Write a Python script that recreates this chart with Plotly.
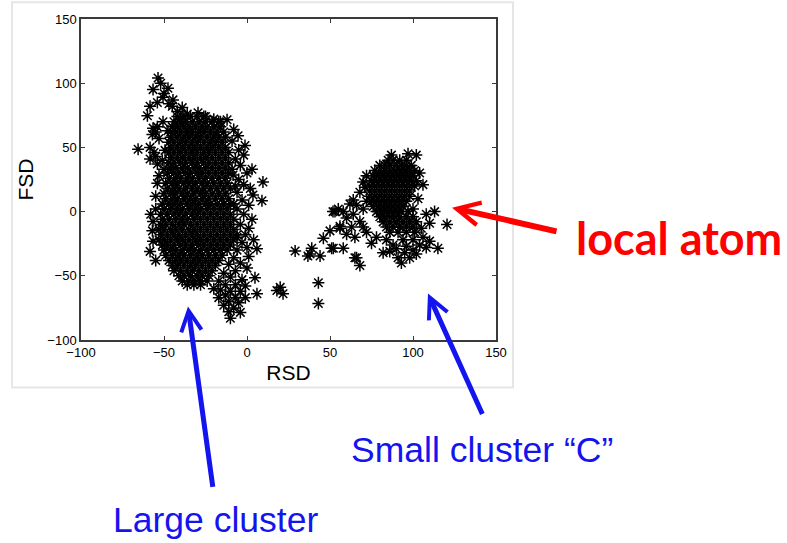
import plotly.graph_objects as go

# ---- large cluster: dense core, one row of RSD values per FSD level ----
large_core_rows = [
    (74, [-42, -38, -34, -30, -26]),
    (70, [-44, -40, -37, -33, -29, -25, -21, -17]),
    (66, [-45, -42, -38, -35, -31, -27, -24, -20, -16]),
    (62, [-46, -43, -40, -36, -33, -29, -26, -22, -18, -14]),
    (58, [-46, -42, -38, -35, -31, -28, -24, -20, -17, -13]),
    (54, [-47, -44, -40, -37, -33, -30, -26, -22, -19, -15]),
    (50, [-46, -42, -39, -35, -32, -28, -24, -21, -17, -13]),
    (46, [-47, -44, -40, -37, -33, -30, -26, -23, -19, -15, -11]),
    (42, [-46, -42, -39, -35, -32, -28, -25, -21, -17, -13]),
    (38, [-47, -44, -40, -37, -33, -30, -26, -23, -19, -15, -11]),
    (34, [-46, -43, -39, -36, -32, -29, -25, -21, -17, -13]),
    (30, [-48, -44, -41, -37, -34, -30, -27, -23, -19, -15, -11]),
    (26, [-47, -43, -40, -36, -33, -29, -25, -21, -17, -13]),
    (22, [-49, -45, -42, -38, -35, -31, -27, -24, -20, -16, -12]),
    (18, [-48, -44, -41, -37, -33, -30, -26, -22, -18, -14, -10]),
    (14, [-50, -46, -43, -39, -36, -32, -28, -25, -21, -17, -13]),
    (10, [-49, -45, -42, -38, -34, -31, -27, -23, -19, -15, -11]),
    (6, [-51, -47, -44, -40, -36, -33, -29, -25, -22, -18, -14, -10]),
    (2, [-50, -46, -42, -39, -35, -31, -28, -24, -20, -16, -12]),
    (-2, [-52, -48, -44, -41, -37, -33, -30, -26, -22, -18, -14, -10]),
    (-6, [-51, -47, -43, -39, -36, -32, -28, -24, -20, -16, -12, -8]),
    (-10, [-52, -49, -45, -41, -38, -34, -30, -26, -22, -18, -14, -10]),
    (-14, [-53, -50, -46, -43, -39, -35, -32, -28, -24, -20, -16, -12, -8]),
    (-18, [-52, -48, -44, -41, -37, -33, -30, -26, -22, -18, -14, -10, -6]),
    (-22, [-53, -50, -46, -42, -39, -35, -31, -28, -24, -20, -16, -12, -8]),
    (-26, [-51, -48, -44, -40, -37, -33, -29, -26, -22, -18, -14, -10]),
    (-30, [-50, -46, -43, -39, -35, -32, -28, -24, -20, -16, -12]),
    (-34, [-49, -45, -41, -38, -34, -30, -27, -23, -19, -15]),
    (-38, [-47, -43, -40, -36, -32, -29, -25, -21, -17]),
    (-42, [-45, -42, -38, -34, -31, -27, -23, -19]),
    (-46, [-44, -40, -36, -33, -29, -25, -21]),
    (-50, [-41, -38, -34, -30, -27, -23]),
    (-54, [-39, -35, -32, -28, -24]),
    (-57, [-36, -32, -28]),
]

# ---- large cluster: upper-left tail ----
large_tail_pts = [
    (-53.6, 104), (-52, 100), (-56.6, 95), (-47.6, 96), (-50, 92), (-50.6, 89),
    (-44.6, 87), (-47, 84), (-39, 81), (-45, 82), (-58.4, 82), (-54, 85),
    (-42, 78), (-36, 76), (-29.5, 77), (-60, 74.6), (-40.4, 71.5), (-25, 74),
    (-20, 72), (-16, 70), (-50.6, 70), (-56.6, 65), (-54, 66), (-57, 60),
    (-55, 62), (-53, 57), (-47.6, 63), (-65.6, 48.5), (-58.4, 50), (-56, 46),
    (-49.4, 47.7), (-58.4, 41), (-55, 43), (-54, 37), (-51, 40), (-50, 33),
]

# ---- large cluster: scattered points around the core ----
large_halo_pts = [
    (-12, 71.5), (-8, 64), (-5.4, 59), (-9, 55), (-1.2, 51.5), (-5, 48),
    (-7, 41), (-2, 44), (-4, 36), (3, 33), (0, 30), (-8.4, 28.5), (-5, 25),
    (9.6, 23), (-2, 21), (2, 18), (3.6, 13), (-6, 15), (-3, 9), (9, 8.5),
    (1, 5), (-6, 2), (-2, -2), (3, -6), (-4, -10), (1, -13), (-1, -18),
    (4, -22), (-3, -24), (6, -29), (0, -28), (-6, -30), (1, -35), (-8, -36),
    (-4, -40), (-11, -41), (0, -44), (-7, -46), (4.8, -51.5), (-14, -48),
    (-10, -51), (-3, -53), (-17, -54), (-13, -57), (-7, -57), (-1, -58),
    (-20, -60), (-16, -61), (-10, -62), (-4, -62), (6, -64), (-13, -65),
    (-7, -67), (-1, -67), (-17, -67), (-11, -70), (-5, -71), (-14, -73),
    (-8, -75), (-4, -78.5), (-11, -78), (-10, -83), (-58.4, -31), (-56.6, -7.7),
    (-57, -15), (-56.6, -23), (-55, -38), (-55, 12), (-54, 22), (-53, 28),
    (-55, 2), (-58, -2), (-7, 20), (-8, 6), (-6, -20), (-9, 33),
]

# ---- points lying between the two clusters ----
gap_pts = [
    (18, -61.5), (20, -59), (21.7, -64), (29, -30.7), (36.7, -34.6),
    (38, -33), (39, -28.5), (43, -55.4), (43, -71.5), (44, -34.6),
]

# ---- small cluster "C": dense part ----
small_core_rows = [
    (40, [85, 88, 92, 96]),
    (36, [80, 83, 86, 90, 93, 96, 99]),
    (32, [77, 80, 83, 86, 89, 92, 95, 98, 101]),
    (28, [76, 79, 82, 85, 88, 91, 94, 97, 100]),
    (24, [75, 78, 81, 84, 87, 90, 93, 96, 99, 102]),
    (20, [74, 77, 80, 83, 86, 89, 92, 95, 98, 101]),
    (16, [74, 77, 80, 83, 86, 89, 92, 95, 98]),
    (12, [74, 77, 80, 83, 86, 89, 92, 95, 98]),
    (8, [75, 78, 81, 84, 87, 90, 93, 96]),
    (4, [76, 79, 82, 85, 88, 91, 94]),
    (0, [78, 81, 84, 87, 90, 93, 97]),
    (-4, [80, 83, 86, 89, 92, 96, 100]),
    (-8, [82, 86, 90, 94, 98, 102]),
    (-12, [84, 88, 92, 96, 100]),
    (-16, [86, 91, 96, 101]),
]

# ---- small cluster "C": scattered points ----
small_halo_pts = [
    (87, 44), (97, 45), (102, 44), (106, 21), (104, 30), (103, 10), (100, 2),
    (108, -2), (113, 0), (120.5, -10), (115, -28.5), (110, -23), (106, -20),
    (104, -26), (100, -30), (98, -36), (102, -33), (91, -36), (93, -40),
    (82, -32), (75, -24.6), (78, -20), (88, -26), (94, -22), (68, -42),
    (65, -36), (70, -12), (68, -7.7), (66, 5), (64, 9), (68, 15), (70, 23),
    (72, 28), (71, 19), (62, 6), (58, 0), (51.8, 0), (55, 2), (52, -28.5),
    (58, -28.5), (46, -20.8), (50, -15), (56, -13), (60, -17.7), (63, -12),
    (65, -20), (72, -16), (53, 0), (56, -11.5), (66, -36), (51, -28.5),
    (84, -22), (90, -29), (96, -27), (100, -22), (108, -28), (95, -32),
    (86, -31), (105, -13), (110, -9), (60, -5), (64, -2), (70, 2), (72, 8),
]


def rows_to_xy(rows):
    xs, ys = [], []
    for y, row in rows:
        xs.extend(row)
        ys.extend([y] * len(row))
    return xs, ys


def pts_to_xy(pts):
    return [p[0] for p in pts], [p[1] for p in pts]


rsd, fsd = [], []
for block in (rows_to_xy(large_core_rows), pts_to_xy(large_tail_pts),
              pts_to_xy(large_halo_pts), pts_to_xy(gap_pts),
              rows_to_xy(small_core_rows), pts_to_xy(small_halo_pts)):
    rsd.extend(block[0])
    fsd.extend(block[1])

fig = go.Figure()
fig.add_trace(go.Scatter(
    x=rsd, y=fsd, mode="markers",
    marker=dict(symbol="asterisk-open", size=10, color="black",
                line=dict(color="black", width=1.5)),
    hoverinfo="skip", showlegend=False,
))

# plot area in page pixels: x 81..496, y 15..340
L, R, T, B = 81, 496, 15, 340


def px(x):
    return (x - L) / (R - L)


def py(y):
    return (B - y) / (B - T)


axis_common = dict(
    range=[-100, 150], dtick=50, tick0=-100,
    showline=True, linecolor="#3a3a3a", linewidth=1.5, mirror="ticks",
    ticks="inside", ticklen=4, tickcolor="#3a3a3a", tickwidth=1,
    showgrid=False, zeroline=False,
    tickfont=dict(family="Liberation Sans", size=13, color="black"),
)

fig.update_layout(
    width=787, height=543,
    margin=dict(l=L, r=787 - R, t=T, b=543 - B),
    paper_bgcolor="white", plot_bgcolor="white",
    xaxis=dict(**axis_common,
               title=dict(text="RSD", standoff=6,
                          font=dict(family="Liberation Sans", size=21, color="black"))),
    yaxis=dict(**axis_common,
               title=dict(text="FSD", standoff=8,
                          font=dict(family="Liberation Sans", size=21, color="black"))),
)

# faint frame around the chart panel
fig.add_shape(type="rect", xref="paper", yref="paper",
              x0=px(12), x1=px(513), y0=py(388), y1=py(-2),
              line=dict(color="#e6e6e6", width=2), layer="below")

blue = "#1414EE"
red = "#FF0000"

# arrows: head position, offset to the tail in pixels, colour, width, head size
arrows = [
    (452, 206, 106, 24, red, 6, 0.75),
    (188, 306, 25, 182, blue, 5, 0.8),
    (428, 293, 55, 122, blue, 5, 0.8),
]
for hx, hy, dx, dy, col, w, hs in arrows:
    fig.add_annotation(x=px(hx), y=py(hy), xref="paper", yref="paper",
                       ax=dx, ay=dy, axref="pixel", ayref="pixel",
                       text="", showarrow=True, arrowhead=5, arrowsize=hs,
                       arrowwidth=w, arrowcolor=col)

labels = [
    ("local atom", 679, 237, red, "Lato", 45, "bold"),
    ("Small cluster “C”", 482, 451, blue, "Liberation Sans", 35.5, "normal"),
    ("Large cluster", 215, 522, blue, "Liberation Sans", 35.5, "normal"),
]
for txt, cx, cy, col, fam, size, weight in labels:
    fig.add_annotation(x=px(cx), y=py(cy), xref="paper", yref="paper",
                       text=txt, showarrow=False, xanchor="center", yanchor="middle",
                       font=dict(family=fam, size=size, color=col, weight=weight))

fig.write_html("out.html")
